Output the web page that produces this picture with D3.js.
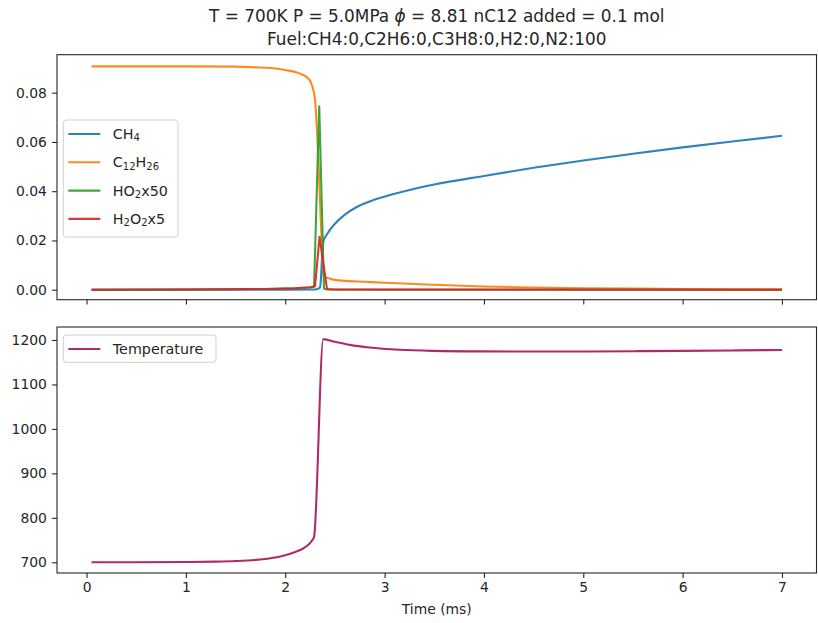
<!DOCTYPE html>
<html>
<head>
<meta charset="utf-8">
<script src="https://cdn.jsdelivr.net/npm/d3@7"></script>
<style>
  body { margin: 0; background: #fff; }
  text { font-family: "DejaVu Sans", sans-serif; fill: #262626; }
</style>
</head>
<body>
<svg id="chart" width="818" height="623"></svg>
<script>
// ---- species mole fractions (top panel) ----
const timeCH4 = [0.05, 1.0, 2.0, 2.3, 2.35, 2.36, 2.37, 2.383, 2.42, 2.5, 2.6, 2.72, 2.85, 2.95, 3.2, 3.5, 4.0, 4.5, 5.0, 5.5, 6.0, 6.5, 7.0];
const valCH4  = [0, 0, 0, 0.0001, 0.0008, 0.005, 0.013, 0.0195, 0.0225, 0.0268, 0.0305, 0.0336, 0.0358, 0.0372, 0.0400, 0.0427, 0.0462, 0.0495, 0.0525, 0.0552, 0.0578, 0.0602, 0.0625];

const timeC12 = [0.05, 0.5, 1.0, 1.5, 1.7, 1.85, 2.0, 2.1, 2.18, 2.23, 2.26, 2.28, 2.30, 2.33, 2.36, 2.385, 2.40, 2.45, 2.5, 2.6, 2.8, 3.0, 3.5, 4.0, 4.5, 5.0, 5.5, 6.0, 6.5, 7.0];
const valC12  = [0.0907, 0.0907, 0.0907, 0.0906, 0.0903, 0.0900, 0.0892, 0.0884, 0.0872, 0.0858, 0.0840, 0.0815, 0.0770, 0.0560, 0.0260, 0.0065, 0.0052, 0.0045, 0.0040, 0.0036, 0.0032, 0.0028, 0.0020, 0.0013, 0.0009, 0.0006, 0.00045, 0.0003, 0.0002, 0.00015];

const timeHO2 = [0.05, 1.0, 1.8, 2.1, 2.25, 2.29, 2.342, 2.39, 2.42, 3.0, 7.0];
const valHO2  = [0, 0.0001, 0.0003, 0.0006, 0.0009, 0.0012, 0.0745, 0.0004, 0.0001, 0, 0];

const timeH2O2 = [0.05, 1.0, 1.8, 2.1, 2.25, 2.30, 2.345, 2.42, 2.5, 7.0];
const valH2O2  = [0, 0.0001, 0.0003, 0.0006, 0.0010, 0.0014, 0.0215, 0.0003, 0.0001, 0];

// ---- temperature (bottom panel) ----
const timeT = [0.05, 0.5, 1.0, 1.3, 1.5, 1.7, 1.85, 2.0, 2.1, 2.18, 2.24, 2.27, 2.29, 2.383, 2.5, 2.65, 2.85, 3.15, 3.5, 4.0, 4.5, 5.0, 5.5, 6.0, 6.5, 7.0];
const valT  = [700, 700.1, 700.6, 701.5, 702.8, 705.3, 709, 716, 723, 731, 741, 749, 757, 1202, 1196, 1189, 1183, 1178, 1175.5, 1174.3, 1174, 1174.2, 1174.8, 1175.6, 1176.5, 1177.5];

// ---- ticks and labels ----
const xTicks = [0, 1, 2, 3, 4, 5, 6, 7];
const yTicksTop = [0, 0.02, 0.04, 0.06, 0.08];
const yTicksBottom = [700, 800, 900, 1000, 1100, 1200];
const titleLines = ["T = 700K P = 5.0MPa ", " = 8.81 nC12 added = 0.1 mol", "Fuel:CH4:0,C2H6:0,C3H8:0,H2:0,N2:100"];
const xLabel = "Time (ms)";

// legend labels: [text, isSubscript] pieces; radicals drawn as straight segments
const seriesTop = [
  { name: "CH4",    t: timeCH4,  v: valCH4,  color: "#1f77b4", smooth: true,  label: [["CH", 0], ["4", 1]] },
  { name: "C12H26", t: timeC12,  v: valC12,  color: "#ff7f0e", smooth: true,  label: [["C", 0], ["12", 1], ["H", 0], ["26", 1]] },
  { name: "HO2x50", t: timeHO2,  v: valHO2,  color: "#2ca02c", smooth: false, label: [["HO", 0], ["2", 1], ["x50", 0]] },
  { name: "H2O2x5", t: timeH2O2, v: valH2O2, color: "#d62728", smooth: false, label: [["H", 0], ["2", 1], ["O", 0], ["2", 1], ["x5", 0]] }
];
const seriesBottom = [
  { name: "Temperature", t: timeT, v: valT, color: "#a8185c", smooth: true, label: [["Temperature", 0]] }
];

const svg = d3.select("#chart");
const left = 57, right = 816.5;
const topBox = { y0: 54.7, y1: 299.7 };
const botBox = { y0: 327, y1: 573 };
const fs = 13.9;

const x = d3.scaleLinear().domain([-0.2975, 7.3475]).range([left, right]);
const yTop = d3.scaleLinear().domain([-0.00406, 0.09543]).range([topBox.y1, topBox.y0]);
const yBot = d3.scaleLinear().domain([675.9, 1229.2]).range([botBox.y1, botBox.y0]);

// clip paths for each panel
const defs = svg.append("defs");
[["clipTop", topBox], ["clipBot", botBox]].forEach(([id, b]) => {
  defs.append("clipPath").attr("id", id).append("rect")
    .attr("x", left).attr("y", b.y0).attr("width", right - left).attr("height", b.y1 - b.y0);
});

function drawPanel(box, yScale, yTicks, yFmt, series, clipId, showXLabels) {
  const g = svg.append("g");
  const lines = g.append("g").attr("clip-path", `url(#${clipId})`);
  series.forEach(s => {
    const line = d3.line().x(d => x(d[0])).y(d => yScale(d[1]))
      .curve(s.smooth ? d3.curveMonotoneX : d3.curveLinear);
    lines.append("path")
      .datum(s.t.map((t, i) => [t, s.v[i]]))
      .attr("d", line)
      .attr("fill", "none")
      .attr("stroke", s.color)
      .attr("stroke-width", 2.1)
      .attr("stroke-linejoin", "round")
      .attr("stroke-opacity", 0.92);
  });

  // axes
  const xAxis = d3.axisBottom(x).tickValues(xTicks).tickSize(4.9).tickPadding(4.5)
    .tickFormat(showXLabels ? d3.format("d") : () => "");
  const gx = g.append("g").attr("transform", `translate(0,${box.y1})`).call(xAxis);
  const yAxis = d3.axisLeft(yScale).tickValues(yTicks).tickSize(4.9).tickPadding(5.2).tickFormat(yFmt);
  const gy = g.append("g").attr("transform", `translate(${left},0)`).call(yAxis);
  [gx, gy].forEach(a => {
    a.select(".domain").remove();
    a.selectAll("line").attr("stroke", "#262626").attr("stroke-width", 1.1);
    a.selectAll("text").style("font-family", "DejaVu Sans").style("font-size", fs + "px").attr("fill", "#262626");
  });

  // frame
  g.append("rect").attr("x", left).attr("y", box.y0)
    .attr("width", right - left).attr("height", box.y1 - box.y0)
    .attr("fill", "none").attr("stroke", "#262626").attr("stroke-width", 1.1);
  return g;
}

drawPanel(topBox, yTop, yTicksTop, d3.format(".2f"), seriesTop, "clipTop", false);
drawPanel(botBox, yBot, yTicksBottom, d3.format("d"), seriesBottom, "clipBot", true);

// legends
function drawLegend(series, bx, by, bw, bh) {
  const g = svg.append("g");
  g.append("rect").attr("x", bx).attr("y", by).attr("width", bw).attr("height", bh)
    .attr("rx", 3).attr("fill", "#fff").attr("fill-opacity", 0.8)
    .attr("stroke", "#d0d0d0").attr("stroke-width", 1);
  series.forEach((s, i) => {
    const cy = by + 14 + i * 28.3;
    g.append("line").attr("x1", bx + 5).attr("x2", bx + 37).attr("y1", cy).attr("y2", cy)
      .attr("stroke", s.color).attr("stroke-width", 2.1).attr("stroke-opacity", 0.92);
    const t = g.append("text").attr("x", bx + 49.5).attr("y", cy + 5)
      .style("font-size", "14.3px");
    let prevSub = false;
    s.label.forEach(([txt, sub]) => {
      const sp = t.append("tspan").text(txt);
      if (sub && !prevSub) sp.attr("dy", 2.4).style("font-size", "10px");
      else if (sub) sp.style("font-size", "10px");
      else if (prevSub) sp.attr("dy", -2.4);
      prevSub = !!sub;
    });
  });
}
drawLegend(seriesTop, 63.3, 120, 114.7, 117);
drawLegend(seriesBottom, 63.3, 335, 152.7, 27.3);

// title
const title = svg.append("text").attr("x", (left + right) / 2).attr("y", 22)
  .attr("text-anchor", "middle").style("font-size", "16.9px");
title.append("tspan").text(titleLines[0]);
title.append("tspan").style("font-style", "italic").text("ϕ");
title.append("tspan").text(titleLines[1]);
svg.append("text").attr("x", (left + right) / 2).attr("y", 44.5)
  .attr("text-anchor", "middle").style("font-size", "16.9px").text(titleLines[2]);

// x-axis label
svg.append("text").attr("x", (left + right) / 2).attr("y", 614)
  .attr("text-anchor", "middle").style("font-size", fs + "px").text(xLabel);
</script>
</body>
</html>
